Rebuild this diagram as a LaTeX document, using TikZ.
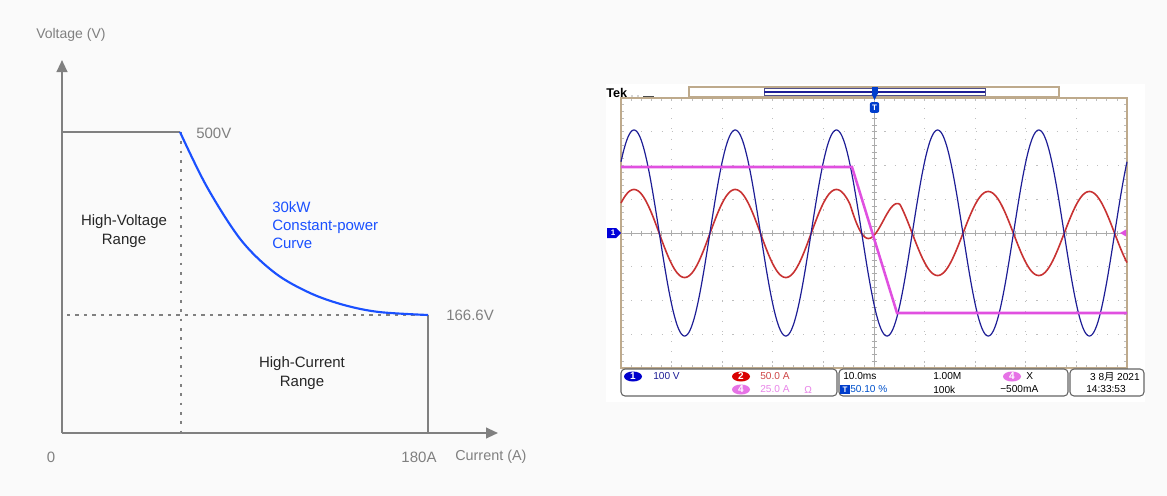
\documentclass[tikz,border=0pt]{standalone}
\usepackage{fontspec}
\setmainfont{Liberation Sans}
\newfontfamily\cjk{Noto Sans CJK SC}
\usetikzlibrary{arrows.meta,shapes.geometric}
\newcommand{\myfs}[1]{\fontsize{#1}{#1}\selectfont}
\definecolor{bgc}{RGB}{250,250,250}
\definecolor{axc}{RGB}{128,128,128}
\definecolor{cpblue}{RGB}{26,80,255}
\definecolor{navy}{RGB}{30,30,150}
\definecolor{wred}{RGB}{200,50,50}
\definecolor{wmag}{RGB}{224,80,224}
\definecolor{tan}{RGB}{190,170,140}
\definecolor{gridc}{RGB}{190,190,190}
\definecolor{boxc}{RGB}{100,100,100}
\tikzset{
  axis/.style={draw=axc, line width=1.5pt, -{Triangle[length=9pt,width=8pt]}},
  frame/.style={draw=axc, line width=1.5pt},
  dashh/.style={draw=axc, line width=1.3pt, dash pattern=on 2.5pt off 3.8pt},
  dotv/.style={draw=axc, line width=1.4pt, dash pattern=on 2pt off 5pt},
  glab/.style={text=axc, inner sep=0pt},
  reg/.style={text=black!85, align=center, inner sep=0pt, font=\myfs{11.25pt}, execute at begin node=\setlength{\baselineskip}{14.25pt}},
  gridl/.style={draw=gridc, line width=0.6pt, dash pattern=on 0.8pt off 6.8pt},
  stbox/.style={draw=boxc, line width=0.8pt, rounded corners=3pt},
  stt/.style={inner sep=0pt, font=\myfs{7.6pt}},
  chip/.style={ellipse, inner sep=0pt, minimum width=13.5pt, minimum height=7.5pt, text=white, font=\myfs{7.5pt}\bfseries},
}
\begin{document}
\begin{tikzpicture}[x=0.75pt,y=-0.75pt]
\useasboundingbox[fill=bgc] (0,0) rectangle (1167,496);

% ---------------- left chart ----------------
\coordinate (O) at (62,433);
\coordinate (Ytop) at (62,60);
\coordinate (Xend) at (498,433);
\coordinate (A) at (62,132);
\coordinate (B) at (180,132);
\coordinate (Bd) at (181,132);
\coordinate (Bb) at (181,433);
\coordinate (Hl) at (67,315);
\coordinate (C) at (428,315);
\coordinate (Cb) at (428,433);

\draw[dotv] (Bd) -- (Bb);
\draw[dashh] (Hl) -- (C);
\draw[axis] (O) -- (Ytop);
\draw[axis] (O) -- (Xend);
\draw[frame] (A) -- (B);
\draw[frame] (C) -- (Cb);
\draw[cpblue, line width=1.6pt] plot[smooth, tension=0.55] coordinates {(180,132) (207,187) (241,240) (275,273) (310,293) (344,305) (379,312) (428,315)};

\node[glab, anchor=west, font=\myfs{10.5pt}] (ylab) at (36,35) {Voltage (V)};
\node[glab, anchor=west, font=\myfs{11.25pt}] (v500) at (196,133) {500V};
\node[glab, anchor=west, font=\myfs{11.25pt}] (v166) at (446,315) {166.6V};
\node[glab, font=\myfs{11.25pt}] (zero) at (51,457) {0};
\node[glab, font=\myfs{11.25pt}] (a180) at (419,457) {180A};
\node[glab, anchor=west, font=\myfs{10.8pt}] (xlab) at (455,457) {Current (A)};
\node[text=cpblue, align=left, anchor=west, inner sep=0pt, font=\myfs{11.25pt}, execute at begin node=\setlength{\baselineskip}{13.5pt}] (cp) at (272,225) {30kW\\Constant-power\\Curve};
\node[reg] (hv) at (124,231.5) {High-Voltage\\Range};
\node[reg] (hc) at (302,373.5) {High-Current\\Range};

% ---------------- oscilloscope ----------------
\fill[white] (606,84) rectangle (1145,402);
\node[anchor=west, inner sep=0pt, font=\myfs{9.5pt}\bfseries] (tek) at (606,93) {Tek};
\fill[black!70] (632,96) circle (0.6);
\fill[black!70] (638,96) circle (0.6);
\draw[black!70, line width=0.6pt] (643,96.5) -- (654,96.5);

% record bar
\draw[tan, line width=0.8pt, fill=white] (689,87) rectangle (1059,97);
\draw[navy!50!gray, line width=0.6pt] (764,88.5) rectangle (985,95.5);
\draw[navy, line width=0.8pt] (764,92) -- (985,92);

% grid
\foreach \i in {1,...,9} {\draw[gridl] ({621+\i*50.6},98) -- ({621+\i*50.6},368);}
\foreach \j in {1,...,7} {\draw[gridl] (621,{98+\j*33.75}) -- (1127,{98+\j*33.75});}
\draw[gridc!90!black, line width=0.7pt] (874,98) -- (874,368);
\draw[gridc!90!black, line width=0.7pt] (621,233) -- (1127,233);
\foreach \k in {1,...,49} {
  \draw[gridc!90!black, line width=0.5pt] ({621+\k*10.12},230.5) -- ({621+\k*10.12},235.5);
  \draw[gridc, line width=0.5pt] ({621+\k*10.12},98) -- ({621+\k*10.12},101);
  \draw[gridc, line width=0.5pt] ({621+\k*10.12},368) -- ({621+\k*10.12},365);
}
\foreach \k in {1,...,39} {
  \draw[gridc!90!black, line width=0.5pt] (871.5,{98+\k*6.75}) -- (876.5,{98+\k*6.75});
  \draw[gridc, line width=0.5pt] (621,{98+\k*6.75}) -- (624,{98+\k*6.75});
  \draw[gridc, line width=0.5pt] (1127,{98+\k*6.75}) -- (1124,{98+\k*6.75});
}
\draw[tan, line width=0.8pt] (621,98) rectangle (1127,368);

% waveforms
\draw[wred, line width=1.2pt] plot[domain=621:1127, samples=500, variable=\x] (\x, {233.5 - max(-42,min(44,44-1.72*(\x-850)))*cos(3.5573*(\x-634))});
\draw[navy, line width=0.9pt] plot[domain=621:1127, samples=500, variable=\x] (\x, {233-103*cos(3.5573*(\x-634))});
\coordinate (m1) at (621,167);
\coordinate (m2) at (852,167);
\coordinate (m3) at (897,313);
\coordinate (m4) at (1127,313);
\draw[wmag, line width=1.9pt] (m1) -- (m2) -- (m3) -- (m4);

% markers
\fill[blue!85!black] (607,228) -- (616,228) -- (621,233) -- (616,238) -- (607,238) -- cycle;
\node[text=white, inner sep=0pt, font=\myfs{6pt}\bfseries] (ch1) at (613,233) {1};
\fill[wmag] (1120,233) -- (1126,229.5) -- (1126,236.5) -- cycle;
\fill[blue!70!cyan!80!black] (871.5,87) rectangle (877.5,94);
\fill[blue!70!cyan!80!black] (871.5,94) -- (877.5,94) -- (874.5,100) -- cycle;
\node[fill=blue!70!cyan!80!black, rounded corners=1.5pt, text=white, inner sep=0.5pt, minimum width=7pt, minimum height=8pt, font=\myfs{6pt}\bfseries] (trig) at (874.5,107.5) {T};

% status bar
\draw[stbox] (621,369) rectangle (837,396);
\draw[stbox] (839,369) rectangle (1068,396);
\draw[stbox] (1070,369) rectangle (1144,396);

\node[chip, fill=blue!80!black] (c1) at (633,376.5) {1};
\node[stt, anchor=west, text=navy] (t1) at (653,376.5) {100 V};
\node[chip, fill=red!85!black] (c2) at (741,376.5) {2};
\node[stt, anchor=west, text=wred!90] (t2) at (760,376.5) {50.0 A};
\node[chip, fill=wmag!80] (c4) at (741,389.5) {4};
\node[stt, anchor=west, text=wmag!70] (t4) at (760,389.5) {25.0 A};
\node[stt, anchor=west, text=wmag!70] (om) at (804,389.5) {Ω};

\node[stt, anchor=west] (tb) at (843,376.5) {10.0ms};
\node[stt, anchor=west] (sr) at (933,376.5) {1.00M};
\node[chip, fill=wmag!80] (c4b) at (1012,376.5) {4};
\node[stt, anchor=west] (cpl) at (1026,376.5) {X};
\node[fill=blue!70!cyan!80!black, text=white, inner sep=0pt, minimum width=7pt, minimum height=7pt, font=\myfs{6pt}\bfseries] (tsq) at (845,389.5) {T};
\node[stt, anchor=west, text=blue!60!cyan!80!black] (tp) at (850,389.5) {50.10 \%};
\node[stt, anchor=west] (rl) at (933,389.5) {100k};
\node[stt, anchor=west] (lv) at (1000,389.5) {−500mA};
\node[stt, anchor=east] (dt) at (1140,376.5) {3 8{\cjk 月} 2021};
\node[stt, anchor=west] (tm) at (1086,389.5) {14:33:53};
\end{tikzpicture}
\end{document}
